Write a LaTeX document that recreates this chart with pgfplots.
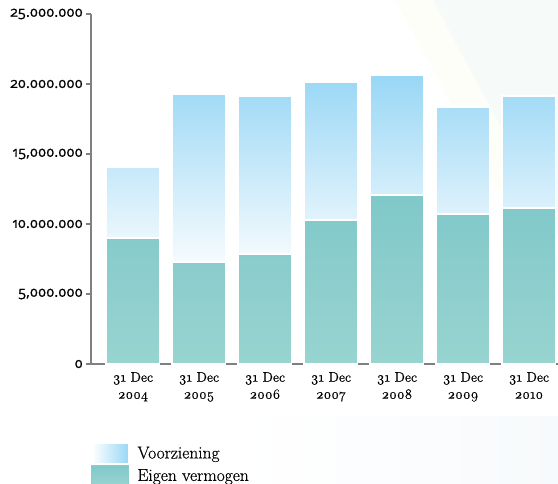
\documentclass[border=0pt]{standalone}
\usepackage{fontspec}
\setmainfont[Numbers=OldStyle]{Latin Modern Roman}
\newfontfamily\labfont[Numbers=OldStyle, FakeBold=0.5]{Latin Modern Roman}
\usepackage{pgfplots}
\pgfplotsset{compat=1.18}
\newfontfamily\tickfont[Numbers=OldStyle, FakeBold=0.8]{Open Sans}
\definecolor{vtop}{HTML}{98D7F5}
\definecolor{vbot}{HTML}{F6FBFE}
\definecolor{etop}{HTML}{80C8C9}
\definecolor{ebot}{HTML}{98D4D0}
\definecolor{axgray}{HTML}{808080}
\definecolor{bggreen}{HTML}{F6FAF8}
\definecolor{bgyel}{HTML}{FEFEF8}
\definecolor{bgblue}{HTML}{F7FAFC}
\begin{document}
\begin{tikzpicture}
% faint background decoration (pixel (px,py) -> (px-91, 364-py))
\fill[bgyel] (395bp-91bp,364bp) -- (433bp-91bp,364bp) -- (558bp-91bp,364bp-234bp) -- (558bp-91bp,364bp-300bp) -- cycle;
\fill[bggreen] (433bp-91bp,364bp) -- (558bp-91bp,364bp) -- (558bp-91bp,364bp-234bp) -- cycle;
\shade[left color=white, right color=bgblue] (240bp-91bp,364bp-416bp) rectangle (558bp-91bp,364bp-484bp);
\begin{axis}[
  name=ax,
  scale only axis, width=467bp, height=350bp,
  xmin=-0.636, xmax=6.44, ymin=0, ymax=25000000,
  ybar stacked, bar width=0.81,
  axis x line*=bottom, axis y line*=left,
  axis line style={axgray, line width=1.6bp, -},
  xtick={0,...,6},
  xticklabels={{31 Dec\\2004},{31 Dec\\2005},{31 Dec\\2006},{31 Dec\\2007},{31 Dec\\2008},{31 Dec\\2009},{31 Dec\\2010}},
  x tick style={draw=none},
  xticklabel style={font=\labfont\fontsize{14}{17}\selectfont, align=center, inner sep=0pt, yshift=-8bp},
  ytick={0,5000000,10000000,15000000,20000000,25000000},
  yticklabels={0,{5,000.000},10.000.000,{15,000.000},20.000.000,25.000.000},
  scaled y ticks=false,
  ytick align=outside,
  y tick style={axgray, line width=1.6bp},
  major tick length=5bp,
  yticklabel style={font=\tickfont\fontsize{14.5}{18}\selectfont, inner sep=0pt, xshift=-3bp},
  reverse legend,
  legend style={at={(rel axis cs:0,0)}, anchor=north west, yshift=-78bp,
    draw=none, fill=none, inner sep=0pt, outer sep=0pt, row sep=0pt,
    font=\labfont\fontsize{17.5}{20}\selectfont,
    nodes={inner sep=0pt},
    /tikz/every odd column/.style={column sep=8bp}},
  legend cell align=left,
]
\addplot[draw=white, line width=1.5bp, top color=etop, bottom color=ebot,
  legend image code/.code={\fill[etop!60!ebot] (0bp,-10.5bp) rectangle (37bp,10.5bp);}]
  coordinates {(0,9000000) (1,7290000) (2,7860000) (3,10290000) (4,12070000) (5,10710000) (6,11140000)};
\addlegendentry{Eigen vermogen}
\addplot[draw=white, line width=1.5bp, top color=vtop, bottom color=vbot,
  legend image code/.code={\shade[left color=white, right color=vtop] (0bp,-10.5bp) rectangle (37bp,10.5bp);}]
  coordinates {(0,5070000) (1,12000000) (2,11280000) (3,9850000) (4,8570000) (5,7650000) (6,8000000)};
\addlegendentry{Voorziening}
\end{axis}
\pgfresetboundingbox
\path[use as bounding box] (ax.south west) ++(-91bp,-120bp) rectangle ++(558bp,484bp);
\end{tikzpicture}
\end{document}
